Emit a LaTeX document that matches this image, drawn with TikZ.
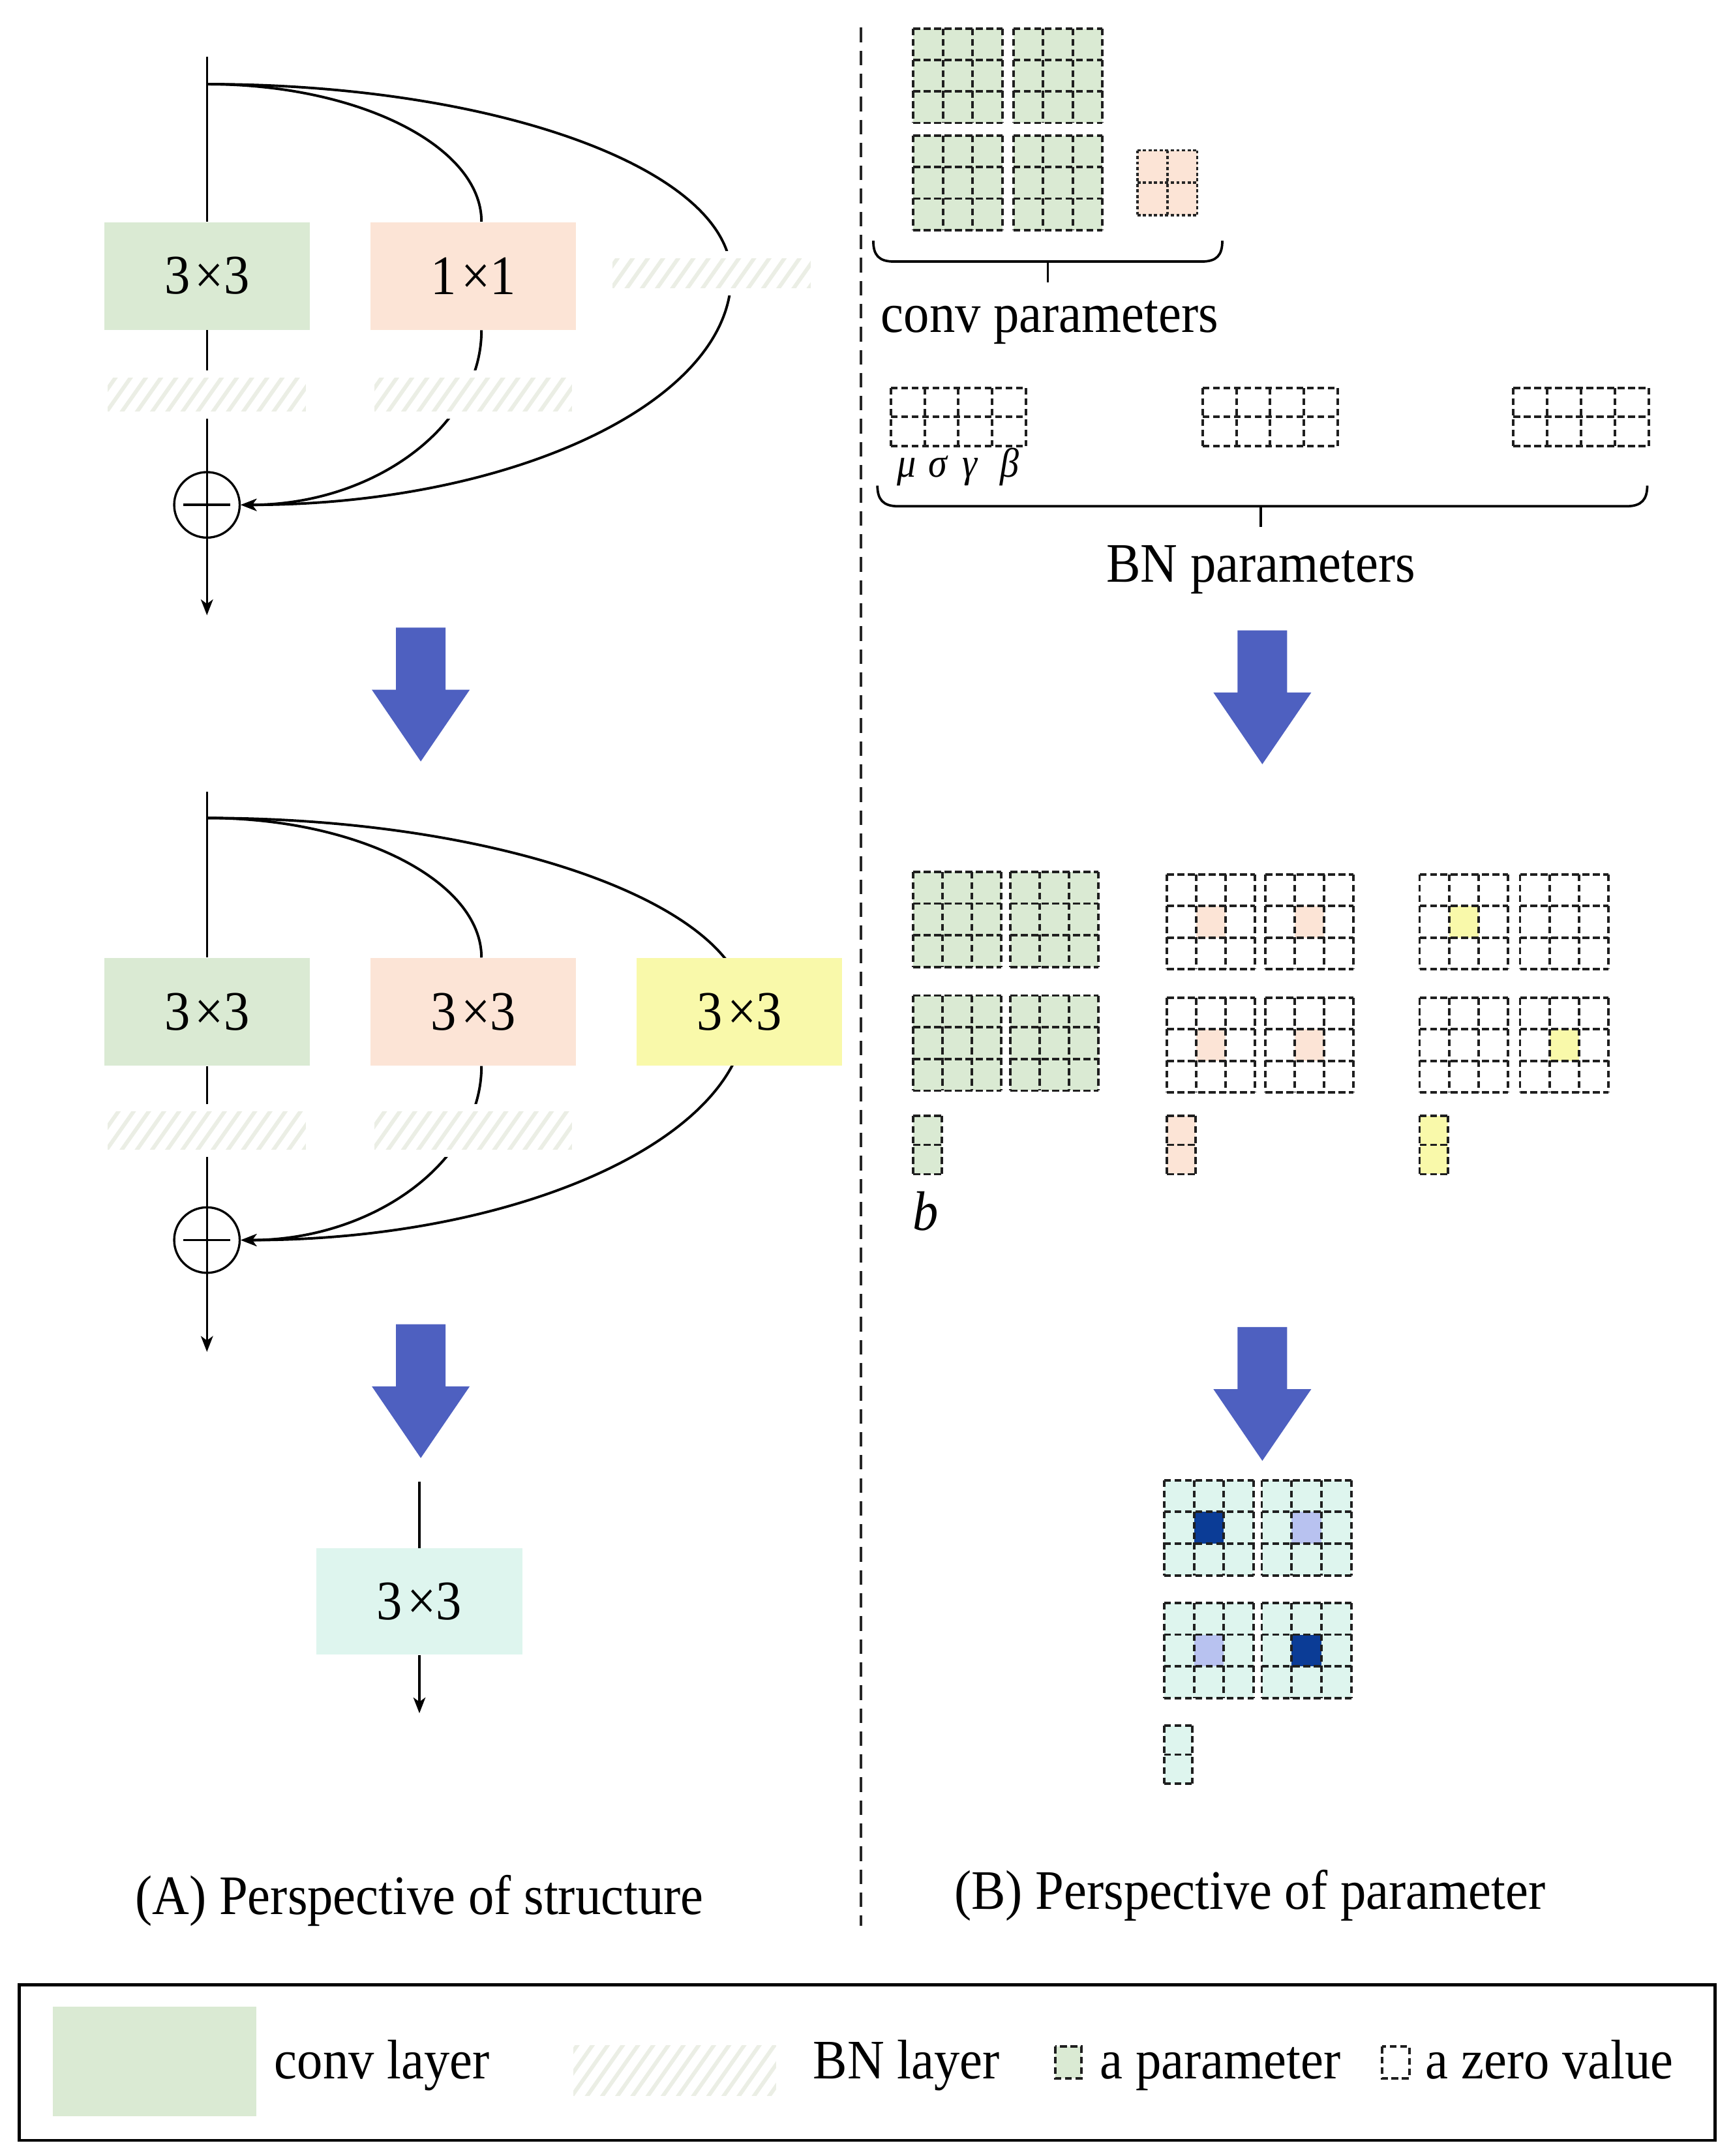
\documentclass[tikz,border=0pt]{standalone}
\usepackage{fontspec}
\setmainfont{Liberation Serif}[FakeStretch=0.92]
\usetikzlibrary{arrows.meta,calc}
\pgfdeclarelayer{bg}
\pgfsetlayers{bg,main}
\definecolor{convgreen}{RGB}{218,234,211}
\definecolor{peach}{RGB}{252,228,214}
\definecolor{yel}{RGB}{249,249,170}
\definecolor{mint}{RGB}{222,245,238}
\definecolor{arrowblue}{RGB}{78,96,192}
\definecolor{darkcell}{RGB}{11,60,150}
\definecolor{lightcell}{RGB}{184,194,240}
\definecolor{hatchc}{RGB}{235,238,229}
\newcommand{\boxfont}{\fontsize{23}{27}\selectfont}
\newcommand{\greekfont}{\fontsize{17}{20}\selectfont\itshape}
% grid: x, y (top-left), cols, rows, width, height, fill, centre fill
\newcommand{\dgrid}[8]{%
  \fill[#7] (#1,#2) rectangle ++(#5,#6);
  \fill[#8] ({#1+#5/3},{#2+#6/3}) rectangle ++({#5/3},{#6/3});
  \foreach \k in {0,...,#3} {\draw[gridline] ({#1+\k*#5/#3},#2) -- ++(0,#6);}
  \foreach \k in {0,...,#4} {\draw[gridline] (#1,{#2+\k*#6/#4}) -- ++(#5,0);}
}
\newcommand{\bigarrow}[2]{%
  \fill[arrowblue] ({#1-18},#2) -- ({#1+18},#2) -- ({#1+18},{#2+45}) -- ({#1+35.5},{#2+45})
    -- (#1,{#2+97}) -- ({#1-35.5},{#2+45}) -- ({#1-18},{#2+45}) -- cycle;
}
\begin{document}
\begin{tikzpicture}[x=0.02cm,y=-0.02cm,
  box/.style={minimum width=2.98cm, minimum height=1.56cm, inner sep=0, font=\boxfont},
  bnbox/.style={fill=white, draw=white, line width=3pt, minimum width=2.98cm,
    minimum height=0.6cm, inner sep=0,
    path picture={\foreach \i in {-8,...,16} {\draw[hatchc, line width=1.6pt]
      ([xshift=\i*0.22cm]path picture bounding box.south west) -- ++(0.62cm,0.88cm);}}},
  addc/.style={circle, draw, line width=0.9pt, minimum size=0.95cm, inner sep=0, fill=white},
  ln/.style={line width=0.9pt},
  cv/.style={line width=1.05pt},
  arr/.style={-{Stealth[length=6.5pt,width=5pt,inset=1.8pt]}},
  gridline/.style={line width=1.05pt, black!88, dash pattern=on 2.8pt off 1.5pt},
  dotline/.style={line width=1pt, black!85, dash pattern=on 1.3pt off 1pt},
  sep/.style={line width=0.9pt, black!85, dash pattern=on 6pt off 3.5pt},
  brace/.style={line width=1pt},
  lbl/.style={font=\boxfont, inner sep=0}]

\useasboundingbox (0,0) rectangle (1256,1563);
\begin{pgfonlayer}{bg}
\fill[white] (0,0) rectangle (1256,1563);
\end{pgfonlayer}

% ---------- structure 1 ----------
\node[box, fill=convgreen] (c1) at (150,200) {3\kern2pt×3};
\node[box, fill=peach] (o1) at (343,200) {1\kern2pt×1};
\node[bnbox] (h1a) at (150,286) {};
\node[bnbox] (h1b) at (343,286) {};
\node[bnbox, minimum height=0.54cm] (h1c) at (516,198) {};
\node[addc] (a1) at (150,366) {};
\draw[ln] (a1.north) -- (a1.south);
\draw[ln] ([xshift=-0.34cm]a1.center) -- ([xshift=0.34cm]a1.center);
\coordinate (in1) at (150,41);
\coordinate (br1) at (150,61);
\coordinate (out1) at (150,446);
\coordinate (m1) at (530,200);
\begin{pgfonlayer}{bg}
\draw[ln] (in1) -- (c1.north);
\draw[ln] (c1.south) -- (a1.north);
\draw[ln, arr] (a1.south) -- (out1);
\draw[cv] (br1) .. controls (260,61) and (349,106) .. ([xshift=0.12cm]o1.north);
\draw[cv, arr] ([xshift=0.12cm]o1.south) .. controls (349,309) and (271,366) .. (a1.east);
\draw[cv] (br1) .. controls (360,61) and (530,123) .. (m1);
\draw[cv, arr] (m1) .. controls (530,292) and (370,366) .. (a1.east);
\end{pgfonlayer}

% ---------- structure 2 ----------
\node[box, fill=convgreen] (c2) at (150,733.5) {3\kern2pt×3};
\node[box, fill=peach] (o2) at (343,733.5) {3\kern2pt×3};
\node[box, fill=yel] (y2) at (536,733.5) {3\kern2pt×3};
\node[bnbox, minimum height=0.66cm] (h2a) at (150,819.5) {};
\node[bnbox, minimum height=0.66cm] (h2b) at (343,819.5) {};
\node[addc] (a2) at (150,899) {};
\draw[ln] (a2.north) -- (a2.south);
\draw[ln] ([xshift=-0.34cm]a2.center) -- ([xshift=0.34cm]a2.center);
\coordinate (in2) at (150,574);
\coordinate (br2) at (150,593);
\coordinate (out2) at (150,980);
\coordinate (m2) at (541,733.5);
\begin{pgfonlayer}{bg}
\draw[ln] (in2) -- (c2.north);
\draw[ln] (c2.south) -- (a2.north);
\draw[ln, arr] (a2.south) -- (out2);
\draw[cv] (br2) .. controls (260,593) and (349,639) .. ([xshift=0.12cm]o2.north);
\draw[cv, arr] ([xshift=0.12cm]o2.south) .. controls (349,842) and (271,899) .. (a2.east);
\draw[cv] (br2) .. controls (365,593) and (541,657) .. (m2);
\draw[cv, arr] (m2) .. controls (541,825) and (376,899) .. (a2.east);
\end{pgfonlayer}

% ---------- structure 3 ----------
\node[box, fill=mint, minimum height=1.54cm] (f3) at (304,1161) {3\kern2pt×3};
\coordinate (in3) at (304,1074);
\coordinate (out3) at (304,1242);
\begin{pgfonlayer}{bg}
\draw[ln] (in3) -- (f3.north);
\draw[ln, arr] (f3.south) -- (out3);
\end{pgfonlayer}

% big arrows
\bigarrow{305}{455}
\bigarrow{305}{960}
\bigarrow{915}{457}
\bigarrow{915}{962}

% separator
\draw[sep] (624,20) -- (624,1396);

% ---------- conv parameters ----------
\dgrid{662}{20.6}{3}{3}{64.5}{68.5}{convgreen}{convgreen}
\dgrid{734.6}{20.6}{3}{3}{64.5}{68.5}{convgreen}{convgreen}
\dgrid{662}{98.3}{3}{3}{64.5}{68.5}{convgreen}{convgreen}
\dgrid{734.6}{98.3}{3}{3}{64.5}{68.5}{convgreen}{convgreen}
\fill[peach] (824.4,109) rectangle ++(43.4,47);
\foreach \k in {0,1,2} {\draw[dotline] ({824.4+\k*21.7},109) -- ++(0,47);}
\foreach \k in {0,1,2} {\draw[dotline] (824.4,{109+\k*23.5}) -- ++(43.4,0);}
\draw[brace] (633,174.5) .. controls (633,185) and (637,189.6) .. (648,189.6) -- (871,189.6)
  .. controls (882,189.6) and (886,185) .. (886,174.5);
\draw[brace] (759.5,189.6) -- (759.5,204.6);
\node[lbl, anchor=base] (convp) at (761,241) {conv parameters};

% ---------- BN parameters ----------
\dgrid{645.7}{281.3}{4}{2}{98}{42}{white}{white}
\dgrid{871.7}{281.3}{4}{2}{98}{42}{white}{white}
\dgrid{1097}{281.3}{4}{2}{98}{42}{white}{white}
\node[font=\greekfont, anchor=base, inner sep=0] (mu) at (657,346) {μ};
\node[font=\greekfont, anchor=base, inner sep=0] (sigma) at (680,346) {σ};
\node[font=\greekfont, anchor=base, inner sep=0] (gamma) at (703,346) {γ};
\node[font=\greekfont, anchor=base, inner sep=0] (beta) at (732,346) {β};
\draw[brace] (636,352) .. controls (636,362) and (640,367) .. (651,367) -- (1179,367)
  .. controls (1190,367) and (1194,362) .. (1194,352);
\draw[brace] (914,367) -- (914,382);
\node[lbl, anchor=base] (bnp) at (914,422) {BN parameters};

% ---------- converted parameters ----------
\dgrid{662}{632}{3}{3}{63.5}{69}{convgreen}{convgreen}
\dgrid{732.5}{632}{3}{3}{63.5}{69}{convgreen}{convgreen}
\dgrid{662}{721.7}{3}{3}{63.5}{69}{convgreen}{convgreen}
\dgrid{732.5}{721.7}{3}{3}{63.5}{69}{convgreen}{convgreen}
\dgrid{846}{634}{3}{3}{63.5}{68.5}{white}{peach}
\dgrid{917.3}{634}{3}{3}{63.5}{68.5}{white}{peach}
\dgrid{846}{723.4}{3}{3}{63.5}{68.5}{white}{peach}
\dgrid{917.3}{723.4}{3}{3}{63.5}{68.5}{white}{peach}
\dgrid{1029}{634}{3}{3}{64}{68.5}{white}{yel}
\dgrid{1101.8}{634}{3}{3}{64}{68.5}{white}{white}
\dgrid{1029}{723.4}{3}{3}{64}{68.5}{white}{white}
\dgrid{1101.8}{723.4}{3}{3}{64}{68.5}{white}{yel}
\dgrid{662}{808.7}{1}{2}{20.5}{42.5}{convgreen}{convgreen}
\dgrid{846}{808.7}{1}{2}{20.5}{42.5}{peach}{peach}
\dgrid{1029}{808.7}{1}{2}{20.5}{42.5}{yel}{yel}
\node[font=\boxfont\itshape, anchor=base, inner sep=0] (bsym) at (671,892) {b};

% ---------- fused parameters ----------
\dgrid{843.8}{1073}{3}{3}{65}{69}{mint}{darkcell}
\dgrid{914.6}{1073}{3}{3}{65}{69}{mint}{lightcell}
\dgrid{843.8}{1162}{3}{3}{65}{69}{mint}{lightcell}
\dgrid{914.6}{1162}{3}{3}{65}{69}{mint}{darkcell}
\dgrid{843.8}{1251}{1}{2}{20.5}{42}{mint}{mint}

% captions
\node[lbl, anchor=base] (capA) at (304,1388) {(A) Perspective of structure};
\node[lbl, anchor=base] (capB) at (906,1384) {(B) Perspective of parameter};

% ---------- legend ----------
\draw[line width=1.3pt] (14,1438.7) rectangle (1243,1551.6);
\fill[convgreen] (38.4,1454.7) rectangle (185.8,1534);
\node[lbl, anchor=base west] (lg1) at (198.6,1506.8) {conv layer};
\node[bnbox, minimum width=3.05cm, minimum height=0.84cm] (lgh) at (489,1501) {};
\node[lbl, anchor=base west] (lg2) at (589,1506.8) {BN layer};
\fill[convgreen] (765,1483.6) rectangle (783.7,1506.8);
\draw[gridline] (765,1483.6) rectangle (783.7,1506.8);
\node[lbl, anchor=base west] (lg3) at (797,1506.8) {a parameter};
\draw[gridline] (1001.6,1483.6) rectangle (1021.5,1506.8);
\node[lbl, anchor=base west] (lg4) at (1033,1506.8) {a zero value};
\end{tikzpicture}
\end{document}
